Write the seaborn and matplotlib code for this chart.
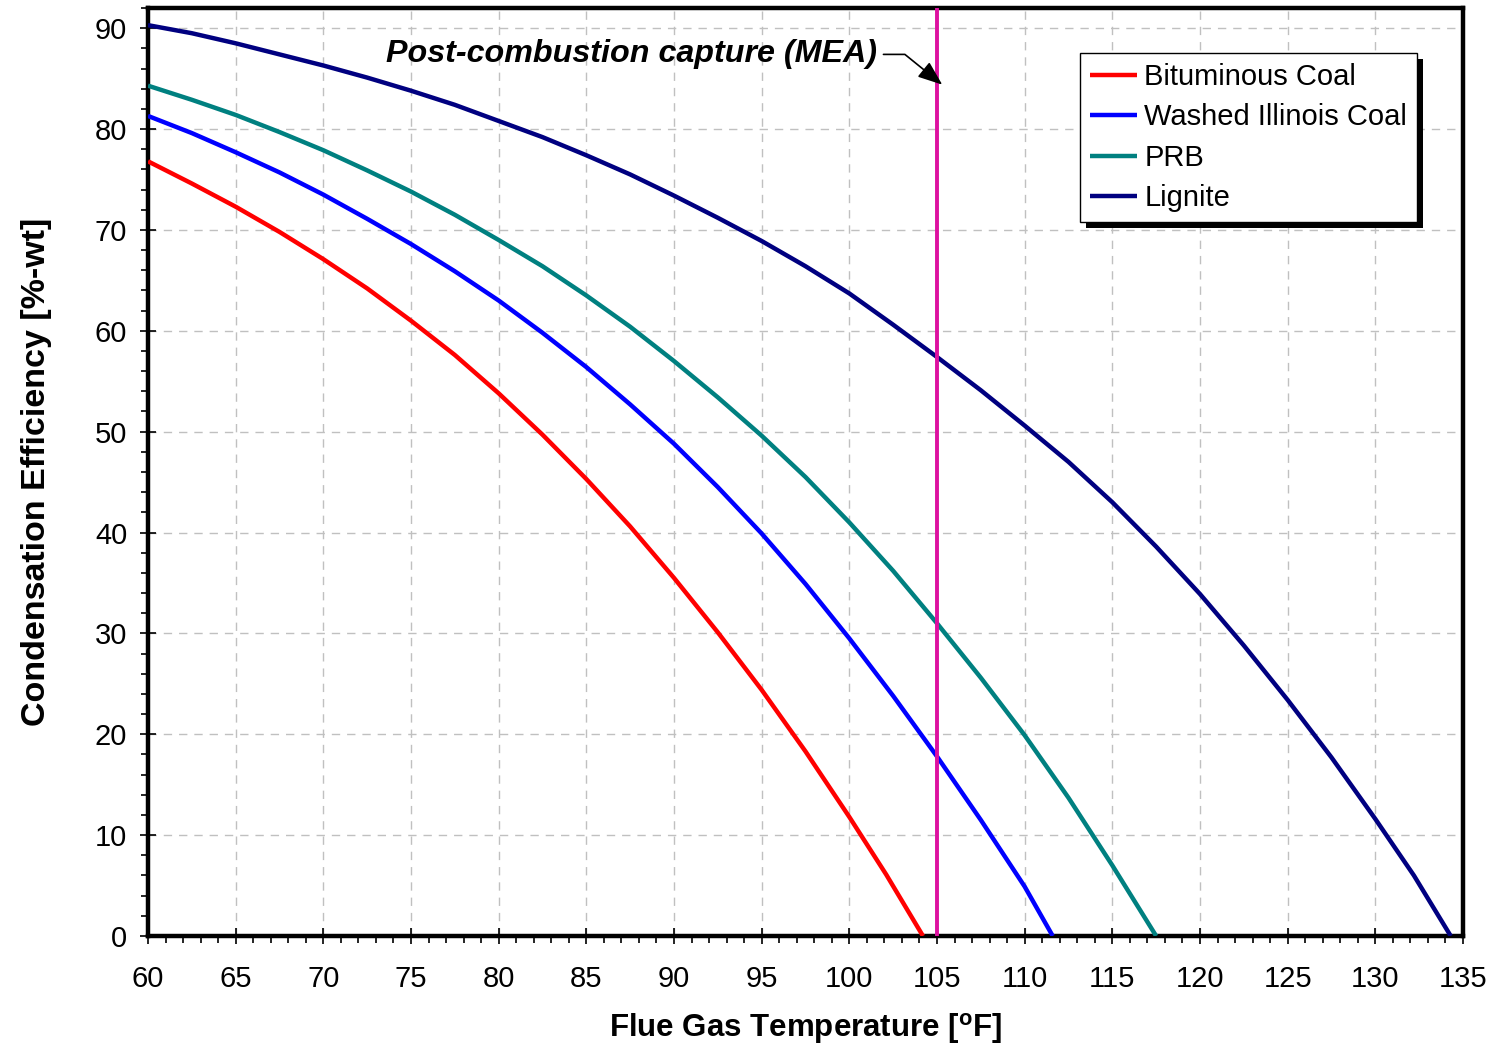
import matplotlib
matplotlib.use("Agg")
import matplotlib.pyplot as plt
from matplotlib.ticker import MultipleLocator
from matplotlib.patches import Rectangle
from matplotlib.transforms import IdentityTransform
import seaborn as sns
import pandas as pd

# ---- data ----
series_names = ["Bituminous Coal", "Washed Illinois Coal", "PRB", "Lignite"]

bit_T = [60, 62.5, 65, 67.5, 70, 72.5, 75, 77.5, 80, 82.5, 85, 87.5, 90, 92.5, 95, 97.5, 100, 102.1, 104.2]
bit_E = [76.8, 74.6, 72.3, 69.8, 67.1, 64.2, 61.0, 57.6, 53.8, 49.7, 45.3, 40.6, 35.5, 30.1, 24.4, 18.3, 11.8, 6.1, 0.0]

wic_T = [60, 62.5, 65, 67.5, 70, 72.5, 75, 77.5, 80, 82.5, 85, 87.5, 90, 92.5, 95, 97.5, 100, 102.5, 105, 107.5, 110, 111.6]
wic_E = [81.3, 79.6, 77.7, 75.7, 73.5, 71.1, 68.6, 65.9, 63.0, 59.8, 56.4, 52.7, 48.8, 44.5, 39.9, 34.9, 29.5, 23.8, 17.8, 11.5, 4.9, 0.0]

prb_T = [60, 62.5, 65, 67.5, 70, 72.5, 75, 77.5, 80, 82.5, 85, 87.5, 90, 92.5, 95, 97.5, 100, 102.5, 105, 107.5, 110, 112.5, 115, 117.5]
prb_E = [84.3, 82.9, 81.4, 79.7, 77.9, 75.9, 73.8, 71.5, 69.0, 66.4, 63.5, 60.4, 57.0, 53.4, 49.6, 45.5, 41.0, 36.2, 31.0, 25.6, 19.9, 13.7, 7.0, 0.0]

lig_T = [60, 62.5, 65, 67.5, 70, 72.5, 75, 77.5, 80, 82.5, 85, 87.5, 90, 92.5, 95, 97.5, 100, 102.5,
         105, 107.5, 110, 112.5, 115, 117.5, 120, 122.5, 125, 127.5, 130, 132.2, 134.3]
lig_E = [90.3, 89.5, 88.5, 87.4, 86.3, 85.1, 83.8, 82.4, 80.8, 79.2, 77.4, 75.5, 73.4, 71.2, 68.9, 66.4, 63.7, 60.6,
         57.4, 54.1, 50.6, 47.0, 43.0, 38.6, 33.9, 28.8, 23.4, 17.7, 11.6, 6.0, 0.0]

mea_T = 105
x_ticks = list(range(60, 136, 5))
y_ticks = list(range(0, 91, 10))

colors = ["#FF0000", "#0000FF", "#008080", "#000080"]
mea_color = "#DD11A0"

# ---- build long table ----
frames = []
for name, T, E in zip(series_names, [bit_T, wic_T, prb_T, lig_T], [bit_E, wic_E, prb_E, lig_E]):
    frames.append(pd.DataFrame({"T": T, "E": E, "Fuel": name}))
df = pd.concat(frames, ignore_index=True)

sns.set_theme(style="white")
plt.rcParams["font.family"] = ["Liberation Sans", "DejaVu Sans"]
plt.rcParams["mathtext.fontset"] = "custom"
plt.rcParams["mathtext.rm"] = "Liberation Sans"
plt.rcParams["mathtext.bf"] = "Liberation Sans:bold"
plt.rcParams["mathtext.it"] = "Liberation Sans:italic"
plt.rcParams["text.color"] = "black"
plt.rcParams["axes.labelcolor"] = "black"
plt.rcParams["xtick.color"] = "black"
plt.rcParams["ytick.color"] = "black"

fig = plt.figure(figsize=(14.95, 10.48), dpi=100)
ax = fig.add_axes([148 / 1495, 112 / 1048, (1463 - 148) / 1495, (1040 - 112) / 1048])

sns.lineplot(data=df, x="T", y="E", hue="Fuel", hue_order=series_names,
             palette=colors, linewidth=3.2, ax=ax, sort=True, estimator=None,
             legend=True, zorder=3)
for ln in ax.get_lines():
    ln.set_solid_joinstyle("round")
    ln.set_solid_capstyle("butt")

ax.axvline(mea_T, color=mea_color, linewidth=2.8, zorder=4)

ax.set_xlim(60, 135)
ax.set_ylim(0, 92)
ax.set_xticks(x_ticks)
ax.set_yticks(y_ticks)
ax.xaxis.set_minor_locator(MultipleLocator(1))
ax.yaxis.set_minor_locator(MultipleLocator(2))

ax.grid(True, which="major", color="#c0c0c0", linestyle=(0, (6, 5)), linewidth=1.0, zorder=0)
ax.set_axisbelow(True)

for s in ax.spines.values():
    s.set_color("black")
    s.set_linewidth(3.2)
    s.set_visible(True)

ax.tick_params(axis="x", which="major", direction="inout", length=12, width=1.2,
               color="black", labelsize=21, pad=15, labelcolor="black")
ax.tick_params(axis="y", which="major", direction="inout", length=12, width=1.2,
               color="black", labelsize=21, pad=9, labelcolor="black")
ax.tick_params(axis="both", which="minor", direction="out", length=5, width=1.2, color="black")
ax.tick_params(axis="x", which="both", bottom=True)
ax.tick_params(axis="y", which="both", left=True)

ax.set_xlabel(r"Flue Gas Temperature [$\mathbf{^o}$F]", fontsize=22.5, fontweight="bold",
              labelpad=13, color="black")
ax.set_ylabel("Condensation Efficiency [%-wt]", fontsize=24.5, fontweight="bold",
              labelpad=31, color="black")

ax.annotate("Post-combustion capture (MEA)", xy=(105.3, 84.4), xytext=(101.6, 87.4),
            textcoords="data", ha="right", va="center", fontsize=23.2,
            fontweight="bold", fontstyle="italic", color="black",
            arrowprops=dict(arrowstyle="-|>,head_length=0.65,head_width=0.25", color="black",
                            lw=1.2, shrinkA=2, shrinkB=0,
                            connectionstyle="angle,angleA=0,angleB=-39,rad=0"),
            zorder=6)

leg = ax.legend(loc="upper left", bbox_to_anchor=((1080 - 148) / 1315, (936 - 53) / 928),
                borderaxespad=0, fontsize=21, frameon=True, fancybox=False,
                handlelength=1.6, handletextpad=0.25, labelspacing=0.42, borderpad=0.35,
                title=None)
leg.get_frame().set_edgecolor("black")
leg.get_frame().set_linewidth(1.0)
leg.get_frame().set_alpha(1)
for t in leg.get_texts():
    t.set_color("black")
for h in leg.get_lines():
    h.set_linewidth(3.2)
leg.set_zorder(10)

fig.canvas.draw()
bb = leg.get_window_extent()
shadow = Rectangle((bb.x0 + 6, bb.y0 - 6), bb.width, bb.height, transform=IdentityTransform(),
                   facecolor="black", edgecolor="none", zorder=9)
ax.add_artist(shadow)
shadow.set_clip_on(False)

fig.savefig("out.png", dpi=100)
